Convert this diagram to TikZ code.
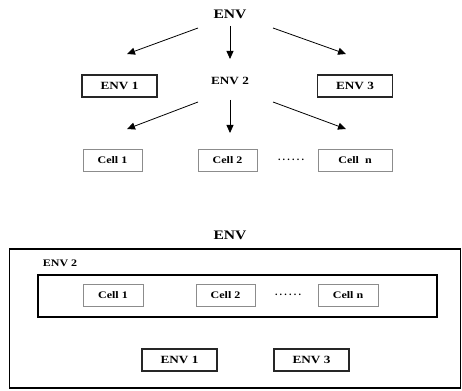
\documentclass[tikz,border=0pt]{standalone}
\usepackage{fontspec}
\setmainfont{Liberation Serif}
\newfontfamily\lblfont[FakeStretch=1.2]{Liberation Serif}
\usetikzlibrary{arrows.meta}
\newcommand\mydots{.\kern2.2pt.\kern2.2pt.\kern2.2pt.\kern2.2pt.\kern2.2pt.}
\begin{document}
\begin{tikzpicture}[x=1pt,y=-1pt,
  lbl/.style={font=\lblfont\bfseries\fontsize{11}{12}\selectfont, inner sep=0pt},
  biglbl/.style={font=\lblfont\bfseries\fontsize{13}{14}\selectfont, inner sep=0pt},
  envbox/.style={draw=black!85, line width=1.8pt, minimum width=75pt, minimum height=22pt, lbl},
  cellbox/.style={draw=black!45, line width=0.8pt, minimum width=59pt, minimum height=22pt, font=\lblfont\bfseries\fontsize{10}{11}\selectfont, inner sep=0pt},
  arr/.style={line width=0.8pt, -{Triangle[length=8pt,width=7pt]}},
  frame/.style={draw=black, line width=1.8pt},
  dots/.style={font=\bfseries\fontsize{10}{12}\selectfont, inner sep=0pt}]
\useasboundingbox (0,0) rectangle (462,390);

% ---- top hierarchy ----
\node[biglbl] (env) at (230,14) {ENV};
\node[envbox] (env1) at (119.5,86) {ENV 1};
\node[lbl] (env2) at (230,81) {ENV 2};
\node[envbox] (env3) at (355,86) {ENV 3};

\coordinate (a1s) at (198,28); \coordinate (a1e) at (127,54);
\coordinate (a2s) at (230,26); \coordinate (a2e) at (230,59);
\coordinate (a3s) at (273,28); \coordinate (a3e) at (346,54);
\draw[arr] (a1s) -- (a1e);
\draw[arr] (a2s) -- (a2e);
\draw[arr] (a3s) -- (a3e);

\node[cellbox] (c1) at (112.5,160) {Cell 1};
\node[cellbox] (c2) at (227.5,160) {Cell 2};
\node[dots] (d1) at (291,160) {\mydots};
\node[cellbox, minimum width=74pt] (cn) at (355,160) {Cell\ \ n};

\coordinate (b1s) at (198,102); \coordinate (b1e) at (127,129);
\coordinate (b2s) at (230,100); \coordinate (b2e) at (230,133);
\coordinate (b3s) at (273,102); \coordinate (b3e) at (346,129);
\draw[arr] (b1s) -- (b1e);
\draw[arr] (b2s) -- (b2e);
\draw[arr] (b3s) -- (b3e);

% ---- bottom nesting ----
\node[biglbl] (envb) at (230,235) {ENV};
\node[frame, minimum width=451pt, minimum height=139pt, inner sep=0pt] (outer) at (235,318.5) {};
\node[lbl, font=\lblfont\bfseries\fontsize{10}{11}\selectfont] (env2b) at (60,263) {ENV 2};
\node[frame, minimum width=399pt, minimum height=42pt, inner sep=0pt] (inner) at (237.5,296) {};
\node[cellbox, minimum width=60pt] (c1b) at (113,295) {Cell 1};
\node[cellbox, minimum width=59pt] (c2b) at (225.5,295) {Cell 2};
\node[dots] (d2) at (288,295) {\mydots};
\node[cellbox, minimum width=60pt] (cnb) at (348,295) {Cell n};
\node[envbox] (env1b) at (179.5,360) {ENV 1};
\node[envbox] (env3b) at (311.5,360) {ENV 3};
\end{tikzpicture}
\end{document}
